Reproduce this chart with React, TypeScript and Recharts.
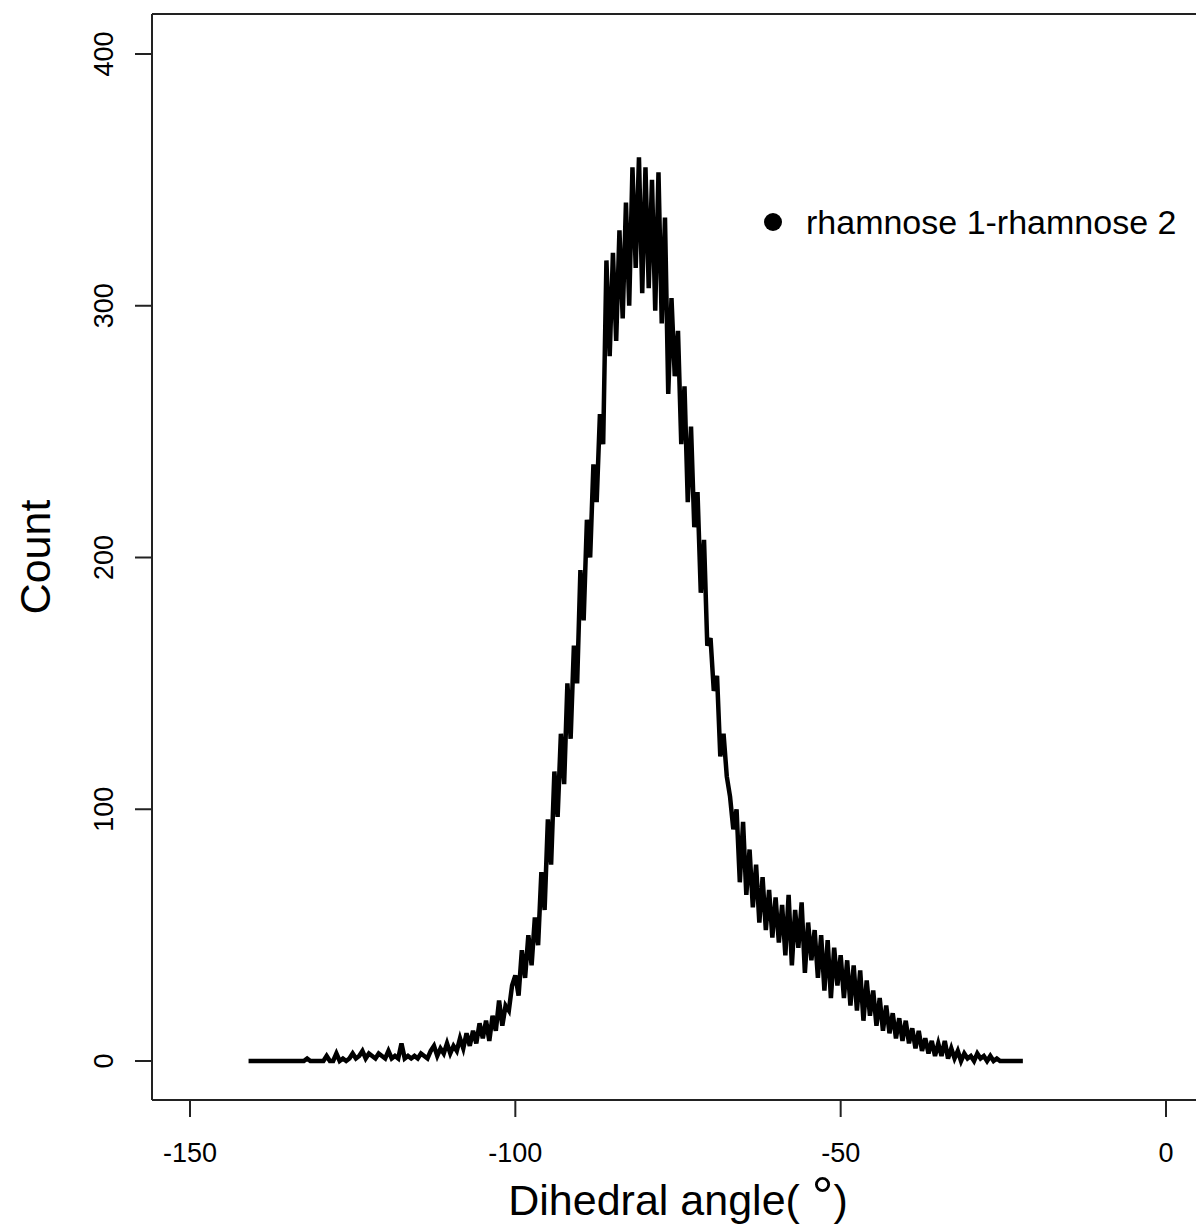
import React from 'react'
import { LineChart, Line, XAxis, YAxis, ReferenceLine, Legend, Label } from 'recharts'

const font = '"Liberation Sans", Arial, Helvetica, sans-serif'

// histogram bins: 0.5 degree wide, first bin at -141
const binStart = -141
const binWidth = 0.5

// counts, bin by bin
const leftTail = [
  0, 0, 0, 0, 0, 0, 0, 0, 0, 0, 0, 0, 0, 0, 0, 0, 0, 0, 1, 0,
  0, 0, 0, 0, 2, 0, 0, 3, 0, 1, 0, 1, 3, 1, 2, 4, 1, 3, 2, 1,
  3, 2, 1, 4, 1, 2
]
const leftShoulder = [
  1, 7, 1, 2, 1, 2, 1, 3, 2, 1, 4, 6, 2, 5, 3, 7, 3, 6, 4, 9,
  5, 11, 6, 12, 7, 15, 9, 16, 8, 18, 12, 24, 14, 22, 20, 30
]
const leftFlank = [
  34, 26, 44, 33, 50, 38, 57, 46, 75, 60, 96, 78, 115, 97, 130, 110, 150, 128, 165, 150,
  195, 175, 215, 200, 237, 222, 257, 245, 318, 280, 321, 286, 330, 295, 341, 300, 355, 315, 359, 305
]
const peakRight = [
  355, 307, 350, 298, 353, 293, 335, 265, 303, 272, 290, 245, 268, 222, 252, 212, 226, 186, 207, 165
]
const rightFlank = [
  168, 147, 153, 121, 130, 113, 105, 92, 100, 71, 95, 66, 84, 61, 78, 55, 73, 52, 68, 49
]
const rightShoulder = [
  65, 47, 62, 42, 66, 38, 60, 45, 63, 35, 55, 40, 52, 33, 50, 28, 48, 25, 45, 30,
  42, 25, 40, 22, 38, 20, 36, 16, 32, 18, 28, 14, 25, 12, 22, 11, 19, 9, 17, 8
]
const rightTail = [
  16, 7, 13, 5, 12, 4, 9, 3, 8, 2, 7, 2, 8, 1, 5, 1, 4, 0, 3, 1,
  2, 0, 3, 1, 2, 0, 2, 0, 1, 0, 0, 0, 0, 0, 0, 0, 0
]

const counts = [...leftTail, ...leftShoulder, ...leftFlank, ...peakRight, ...rightFlank, ...rightShoulder, ...rightTail]
const data = counts.map((count, i) => ({ angle: binStart + i * binWidth, count }))

const xTicks = [-150, -100, -50, 0]
const yTicks = [0, 100, 200, 300, 400]
const xDomain = [-155.84, 4.61]
const yDomain = [-15.49, 415.89]

const seriesName = 'rhamnose 1-rhamnose 2'

const YTick = ({ x, y, payload }: any) => {
  const tx = x - 22
  return (
    <text x={tx} y={y} transform={`rotate(-90, ${tx}, ${y})`} textAnchor="middle"
      fontSize={27} fontFamily={font} fill="#000">
      {payload.value}
    </text>
  )
}

const XTick = ({ x, y, payload }: any) => (
  <text x={x} y={y + 45} textAnchor="middle" fontSize={27} fontFamily={font} fill="#000">
    {payload.value}
  </text>
)

const LegendContent = ({ payload }: any) => (
  <div style={{ display: 'flex', alignItems: 'center', fontFamily: font, fontSize: 34, color: '#000', whiteSpace: 'nowrap' }}>
    <svg width={18} height={18}>
      <circle cx={9} cy={9} r={9} fill="#000" />
    </svg>
    <span style={{ marginLeft: 24, lineHeight: '40px' }}>{payload && payload[0] ? payload[0].value : seriesName}</span>
  </div>
)

export default function App() {
  return (
    <div style={{ position: 'absolute', left: 0, top: 0, background: '#fff' }}>
      <LineChart width={1196} height={1228} data={data} margin={{ top: 14, right: 0, bottom: 98, left: 92 }}>
        <XAxis
          dataKey="angle"
          type="number"
          domain={xDomain}
          ticks={xTicks}
          allowDataOverflow
          height={30}
          tickSize={17}
          tickMargin={0}
          tick={<XTick />}
          axisLine={{ stroke: '#222', strokeWidth: 2 }}
          tickLine={{ stroke: '#222', strokeWidth: 2 }}
        >
          <Label
            content={() => (
              <text x={678} y={1215} textAnchor="middle" fontSize={43} fontFamily={font} fill="#000">
                Dihedral angle( <tspan fontSize={54}>°</tspan>)
              </text>
            )}
          />
        </XAxis>
        <YAxis
          type="number"
          domain={yDomain}
          ticks={yTicks}
          allowDataOverflow
          width={60}
          tickSize={17}
          tickMargin={0}
          tick={<YTick />}
          axisLine={{ stroke: '#222', strokeWidth: 2 }}
          tickLine={{ stroke: '#222', strokeWidth: 2 }}
        >
          <Label
            content={() => (
              <text x={50} y={557} transform="rotate(-90, 50, 557)" textAnchor="middle" fontSize={43} fontFamily={font} fill="#000">
                Count
              </text>
            )}
          />
        </YAxis>
        <ReferenceLine y={yDomain[1]} stroke="#222" strokeWidth={2} />
        <Legend
          layout="horizontal"
          verticalAlign="middle"
          align="center"
          content={<LegendContent />}
          wrapperStyle={{ left: 764, top: 202, width: 'auto' }}
        />
        <Line
          type="linear"
          dataKey="count"
          name={seriesName}
          stroke="#000"
          strokeWidth={4.5}
          dot={false}
          isAnimationActive={false}
        />
      </LineChart>
    </div>
  )
}
